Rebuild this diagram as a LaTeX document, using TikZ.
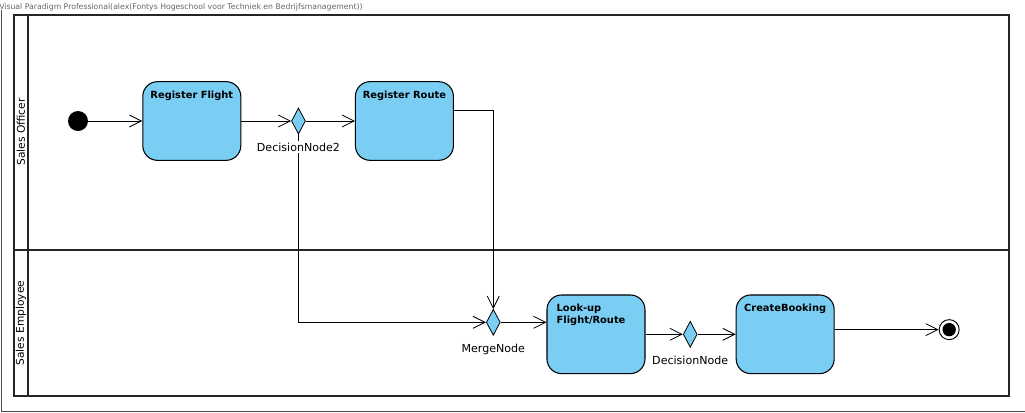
\documentclass[tikz,border=0pt]{standalone}
\usepackage{fontspec}
\setmainfont{DejaVu Sans}
\usepackage{tikz}
\usetikzlibrary{shapes.geometric, arrows.meta, positioning, backgrounds}

\definecolor{actblue}{RGB}{122,206,244}

\begin{document}
\begin{tikzpicture}[
    x=0.75pt, y=-0.75pt,
    act/.style={rectangle, draw=black, line width=0.8pt, fill=actblue, rounded corners=11pt,
               minimum width=73.5pt, minimum height=59pt, inner sep=0pt},
    acttxt/.style={anchor=north, yshift=-7pt, inner sep=0pt, font=\fontsize{7.4}{8.8}\selectfont\bfseries},
    dec/.style={diamond, draw=black, line width=0.6pt, fill=actblue, inner sep=0pt,
               minimum width=10.5pt, minimum height=19.5pt},
    lbl/.style={fill=white, inner sep=1pt, font=\fontsize{8.3}{9.5}\selectfont},
    pool/.style={draw=black!85, line width=1.5pt},
    nar/.style={-{Straight Barb[length=9pt, width=9pt]}, line width=0.6pt},
]
\useasboundingbox (0,0) rectangle (1025,412);

% Frame and title
\draw[black!70, line width=0.6pt] (1,10) -- (1,411) -- (1025,411);
\node[anchor=west, inner sep=0pt, text=black!60, font=\fontsize{5.8}{6.2}\selectfont] (title) at (-1,7)
    {Visual Paradigm Professional(alex(Fontys Hogeschool voor Techniek en Bedrijfsmanagement))};

% Pool and lanes
\draw[pool] (14,15) rectangle (1009,396);
\draw[pool] (28,15) -- (28,396);
\draw[pool] (14,250) -- (1009,250);
\node[rotate=90, font=\fontsize{8}{9}\selectfont] (lane1) at (21,132) {Sales Officer};
\node[rotate=90, font=\fontsize{8}{9}\selectfont] (lane2) at (21,323) {Sales Employee};

% Sales Officer
\node[circle, fill=black, minimum size=15pt, inner sep=0pt] (init) at (78,121) {};
\node[act, right=40.5pt of init, label={[acttxt]north:Register Flight}] (rf) {};
\node[dec, right=37.3pt of rf, label={[lbl, label distance=5pt]below:DecisionNode2}] (dec2) {};
\node[act, right=36.75pt of dec2, label={[acttxt]north:Register Route}] (rr) {};

% Sales Employee
\node[dec, label={[lbl, label distance=5pt]below:MergeNode}] (merge) at (493.3,322.3) {};
\node[act, right=34.3pt of merge, yshift=-9pt,
      label={[acttxt, anchor=north west, xshift=7.5pt, align=left]north west:Look-up\\Flight/Route}] (look) {};
\node[dec, right=28pt of look, label={[lbl, label distance=5pt]below:DecisionNode}] (dec1) {};
\node[act, right=28.5pt of dec1, label={[acttxt]north:CreateBooking}] (cb) {};
\node[circle, draw=black, line width=0.7pt, fill=white, minimum size=15pt, inner sep=0pt,
      right=78pt of cb, yshift=3.5pt,
      path picture={\fill[black] (path picture bounding box.center) circle (5pt);}] (final) {};

% Arrows
\draw[nar] (init) -- (rf);
\draw[nar] (rf) -- (dec2);
\draw[nar] (dec2) -- (rr);
\draw[nar] ([yshift=8.25pt]rr.east) -| (merge.north);
\begin{scope}[on background layer]
    \draw[nar] (dec2.south) |- (merge.west);
\end{scope}
\draw[nar] (merge.east) -- (merge.east -| look.west);
\draw[nar] (look) -- (dec1);
\draw[nar] (dec1) -- (cb);
\draw[nar] (cb.east |- final) -- (final);
\end{tikzpicture}
\end{document}
